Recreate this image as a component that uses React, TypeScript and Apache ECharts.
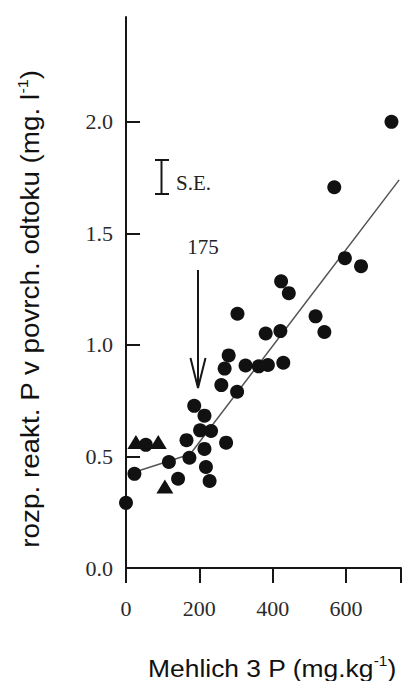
import React, { useEffect, useRef } from "react";
import * as echarts from "echarts";

// Mehlich 3 P (mg/kg) vs dissolved reactive P in runoff (mg/l)
const circleX = [724, 568, 597, 641, 423, 444, 304, 517, 541, 381, 421, 280, 269, 260, 303, 326, 362, 387, 429, 186, 214, 202, 232, 273, 165, 173, 214, 218, 228, 117, 23, 0, 142, 54];
const circleY = [2.0, 1.707, 1.389, 1.353, 1.285, 1.232, 1.14, 1.128, 1.058, 1.051, 1.062, 0.953, 0.894, 0.82, 0.79, 0.908, 0.904, 0.91, 0.92, 0.727, 0.683, 0.617, 0.614, 0.562, 0.573, 0.494, 0.534, 0.453, 0.39, 0.475, 0.422, 0.292, 0.4, 0.552];
const triangleX = [27, 88, 106];
const triangleY = [0.565, 0.565, 0.365];
const fitX = [24, 175, 745];
const fitY = [0.43, 0.51, 1.74];
const xTickValues = [0, 200, 400, 600, 750];
const xLabelValues = [0, 200, 400, 600];
const yTickValues = [0, 0.5, 1.0, 1.5, 2.0];

export default function App() {
  const ref = useRef<HTMLDivElement>(null);
  useEffect(() => {
    const chart = echarts.init(ref.current!, null, { renderer: "svg" });
    const ink = "#161616";
    const serif = "'Liberation Serif', 'DejaVu Serif', serif";
    const sans = "'Liberation Sans', Arial, sans-serif";
    chart.setOption({
      animation: false,
      backgroundColor: "#fff",
      grid: { left: 126, right: 3, top: 17, bottom: 113 },
      xAxis: {
        type: "value",
        min: 0,
        max: 750,
        splitLine: { show: false },
        axisLine: { show: true, onZero: false, lineStyle: { color: ink, width: 2 } },
        axisTick: { show: true, inside: false, length: 15, lineStyle: { color: ink, width: 2 }, customValues: xTickValues },
        axisLabel: { fontFamily: serif, fontSize: 22, color: "#2a2a2a", margin: 29, customValues: xLabelValues },
      },
      yAxis: {
        type: "value",
        min: 0,
        max: 2.47,
        splitLine: { show: false },
        axisLine: { show: true, onZero: false, lineStyle: { color: ink, width: 2 } },
        axisTick: { show: true, inside: true, length: 14, lineStyle: { color: ink, width: 2 }, customValues: yTickValues },
        axisLabel: { fontFamily: serif, fontSize: 22, color: "#2a2a2a", margin: 13, customValues: yTickValues, formatter: (v: number) => v.toFixed(1) },
      },
      series: [
        {
          type: "line",
          data: fitX.map((x, i) => [x, fitY[i]]),
          symbol: "none",
          lineStyle: { color: "#555", width: 1.5 },
          z: 1,
        },
        {
          type: "scatter",
          data: circleX.map((x, i) => [x, circleY[i]]),
          symbol: "circle",
          symbolSize: 14,
          itemStyle: { color: "#111", opacity: 1 },
          z: 3,
        },
        {
          type: "scatter",
          data: triangleX.map((x, i) => [x, triangleY[i]]),
          symbol: "triangle",
          symbolSize: [17, 14],
          itemStyle: { color: "#111", opacity: 1 },
          z: 3,
        },
      ],
      graphic: [
        // S.E. bar
        { type: "line", shape: { x1: 161.5, y1: 160, x2: 161.5, y2: 194 }, style: { stroke: ink, lineWidth: 2 } },
        { type: "line", shape: { x1: 155, y1: 160, x2: 169, y2: 160 }, style: { stroke: ink, lineWidth: 2 } },
        { type: "line", shape: { x1: 155, y1: 194, x2: 169, y2: 194 }, style: { stroke: ink, lineWidth: 2 } },
        { type: "text", x: 176, y: 183, style: { text: "S.E.", font: `21px ${serif}`, fill: "#222", verticalAlign: "middle", align: "left" } },
        // arrow at 175
        { type: "text", x: 203, y: 247, style: { text: "175", font: `21px ${serif}`, fill: "#222", verticalAlign: "middle", align: "center" } },
        { type: "line", shape: { x1: 198, y1: 270, x2: 198, y2: 387 }, style: { stroke: ink, lineWidth: 2 } },
        { type: "polyline", shape: { points: [[190.5, 358], [198, 388], [205.5, 358]] }, style: { stroke: ink, lineWidth: 2, fill: "none" } },
        // axis titles
        {
          type: "text",
          x: 272,
          y: 668,
          scaleX: 1.1,
          style: {
            text: "{a|Mehlich 3 P (mg.kg}{s|-1}{a|)}",
            align: "center",
            verticalAlign: "middle",
            fill: "#111",
            rich: {
              a: { fontFamily: sans, fontSize: 24, lineHeight: 28, fill: "#111" },
              s: { fontFamily: sans, fontSize: 14, lineHeight: 14, verticalAlign: "top", fill: "#111" },
            },
          },
        },
        {
          type: "text",
          x: 30,
          y: 309,
          rotation: Math.PI / 2,
          scaleX: 1.07,
          style: {
            text: "{a|rozp. reakt. P v povrch. odtoku (mg. l}{s|-1}{a|)}",
            align: "center",
            verticalAlign: "middle",
            fill: "#111",
            rich: {
              a: { fontFamily: sans, fontSize: 26, lineHeight: 30, fill: "#111" },
              s: { fontFamily: sans, fontSize: 15, lineHeight: 15, verticalAlign: "top", fill: "#111" },
            },
          },
        },
      ],
    });
    return () => chart.dispose();
  }, []);
  return (
    <div
      ref={ref}
      style={{ position: "fixed", left: 0, top: 0, width: 404, height: 681, background: "#fff" }}
    />
  );
}
